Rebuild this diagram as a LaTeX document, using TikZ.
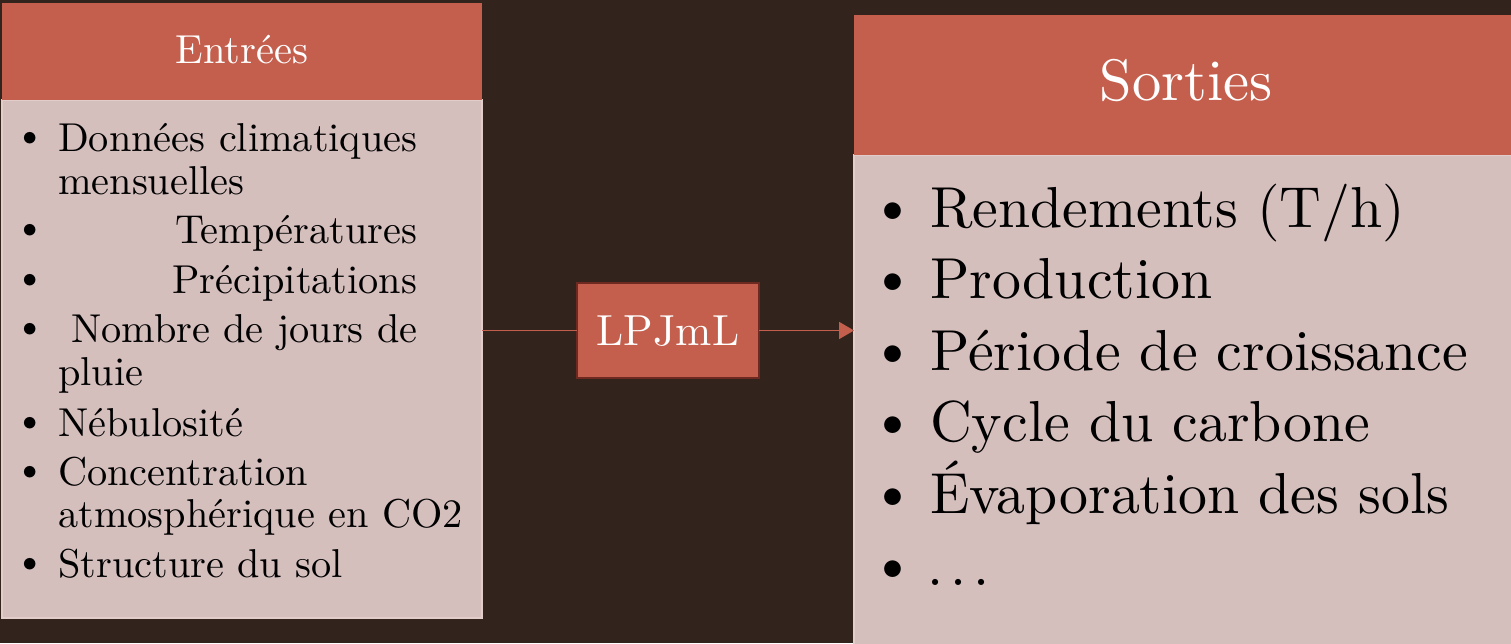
\documentclass[tikz,border=0pt]{standalone}
\usepackage{fontspec}
\setmainfont{lmroman10-regular.otf}
\usetikzlibrary{arrows.meta}
\definecolor{bgc}{HTML}{32241C}
\definecolor{headc}{HTML}{C45F4D}
\definecolor{bodyc}{HTML}{D5BFBD}
\definecolor{edgec}{HTML}{E2CDCB}
\definecolor{lpjedge}{HTML}{6E2A20}
\tikzset{
  headbox/.style={fill=headc, draw=none, inner sep=0pt, outer sep=0pt, anchor=north west},
  bodybox/.style={fill=bodyc, draw=edgec, line width=1.2pt, inner sep=0pt, outer sep=0pt, anchor=north west},
  lpjbox/.style={fill=headc, draw=lpjedge, line width=1.5pt, inner sep=0pt, outer sep=0pt,
    minimum width=182pt, minimum height=95pt, text=white, font=\fontsize{43.5}{48}\selectfont,
    text height=30pt, text depth=0pt},
  conn/.style={draw=headc, line width=1.8pt},
  htxt/.style={text=white, inner sep=0pt, anchor=base},
  ltxt/.style={inner sep=0pt, anchor=base west, font=\fontsize{40.3}{45}\selectfont},
  lbul/.style={inner sep=0pt, anchor=base, font=\fontsize{40.3}{45}\selectfont, yshift=4pt},
  rtxt/.style={inner sep=0pt, anchor=base west, font=\fontsize{57.8}{66}\selectfont},
  rbul/.style={inner sep=0pt, anchor=base, font=\fontsize{57.8}{66}\selectfont, yshift=3pt},
}
\begin{document}
\begin{tikzpicture}[x=1pt, y=-1pt]
\fill[bgc] (0,0) rectangle (1511,643);
\useasboundingbox (0,0) rectangle (1511,643);
% left box
\node[bodybox, minimum width=480pt, minimum height=518pt] (ebody) at (2,100) {};
\node[headbox, minimum width=480pt, minimum height=97pt] (ehead) at (2,3) {};
\node[htxt, font=\fontsize{40.5}{45}\selectfont] (etitle) at (242,63) {Entrées};
% right box
\node[bodybox, minimum width=660pt, minimum height=490pt] (sbody) at (854,155) {};
\node[headbox, minimum width=657pt, minimum height=140pt] (shead) at (854,15) {};
\node[htxt, font=\fontsize{58.5}{66}\selectfont] (stitle) at (1186,100) {Sorties};
% LPJmL
\node[lpjbox] (lpj) at (668,330.5) {LPJmL};
\draw[conn, line width=1.3pt] (482,330.5) coordinate (lin) -- (lpj.west);
\draw[conn, -{Triangle[length=15pt,width=17pt]}] (lpj.east) -- (854,330.5) coordinate (rin);
% left list
\node[lbul] (eb1) at (30,151) {\textbullet};
\node[ltxt] (e1) at (58,151) {Données climatiques};
\node[ltxt] (e1b) at (58,194) {mensuelles};
\node[lbul] (eb2) at (30,243) {\textbullet};
\node[ltxt] (e2) at (175,243) {Températures};
\node[lbul] (eb3) at (30,293) {\textbullet};
\node[ltxt] (e3) at (172,293) {Précipitations};
\node[lbul] (eb4) at (30,342) {\textbullet};
\node[ltxt] (e4) at (71,342) {Nombre de jours de};
\node[ltxt] (e4b) at (58,385) {pluie};
\node[lbul] (eb5) at (30,436) {\textbullet};
\node[ltxt] (e5) at (58,436) {Nébulosité};
\node[lbul] (eb6) at (30,485) {\textbullet};
\node[ltxt] (e6) at (58,485) {Concentration};
\node[ltxt] (e6b) at (58,527) {atmosphérique en CO2};
\node[lbul] (eb7) at (30,577) {\textbullet};
\node[ltxt] (e7) at (58,577) {Structure du sol};
% right list
\node[rbul] (sb1) at (893,227) {\textbullet};
\node[rtxt] (s1) at (930,227) {Rendements (T/h)};
\node[rbul] (sb2) at (893,298.6) {\textbullet};
\node[rtxt] (s2) at (930,298.6) {Production};
\node[rbul] (sb3) at (893,370.2) {\textbullet};
\node[rtxt] (s3) at (930,370.2) {Période de croissance};
\node[rbul] (sb4) at (893,441.8) {\textbullet};
\node[rtxt] (s4) at (930,441.8) {Cycle du carbone};
\node[rbul] (sb5) at (893,513.4) {\textbullet};
\node[rtxt] (s5) at (930,513.4) {Évaporation des sols};
\node[rbul] (sb6) at (893,585) {\textbullet};
\node[rtxt] (s6) at (927,585) {.\kern0.12em.\kern0.12em.};
\end{tikzpicture}
\end{document}
